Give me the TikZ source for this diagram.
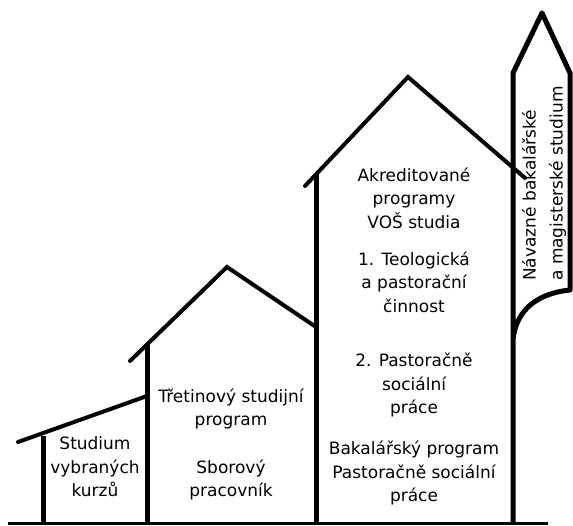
\documentclass[tikz,border=0pt]{standalone}
\usepackage{fontspec}
\setmainfont{DejaVu Sans}
\tikzset{
	wall/.style={line width=5pt},
	roof/.style={line width=4pt, line cap=round},
	housetext/.style={align=center, inner sep=0pt, font=\fontsize{17}{23.5}\selectfont},
}
\begin{document}
\begin{tikzpicture}[x=1pt,y=-1pt]
	\useasboundingbox (0,0) rectangle (573,526);
	\draw[line width=3pt] (8,523) -- (548,523);
	\draw[wall] (43,523) -- (43,436);
	\draw[wall] (147,523) -- (147,344);
	\draw[wall] (316,523) -- (316,173);
	\draw[roof] (18,442) -- (147,396);
	\draw[roof] (130,361) -- (227,267) -- (316,327);
	\draw[roof] (305,186) -- (408,77) -- (525,178);
	\draw[wall, line join=round] (513,523) -- (513,73) -- (542,13) -- (570,73) -- (570,290)
		.. controls (540,293) and (516,308) .. (513,340);
	\node[housetext] (kurzy) at (95,467) {Studium\\vybraných\\kurzů};
	\node[housetext] (tretina) at (231,409) {Třetinový studijní\\program};
	\node[housetext] (sbor) at (231,480) {Sborový\\pracovník};
	\node[housetext] (akred) at (414,198) {Akreditované\\programy\\VOŠ studia};
	\node[housetext] (teol) at (414,282) {1. Teologická\\a pastorační\\činnost};
	\node[housetext] (soc) at (414,385) {2. Pastoračně\\sociální\\práce};
	\node[housetext] (bak) at (414,473) {Bakalářský program\\Pastoračně sociální\\práce};
	\node[housetext, align=left, rotate=90, anchor=west, font=\fontsize{17}{27}\selectfont] (navaz) at (544,281) {Návazné bakalářské\\a magisterské studium};
\end{tikzpicture}
\end{document}
